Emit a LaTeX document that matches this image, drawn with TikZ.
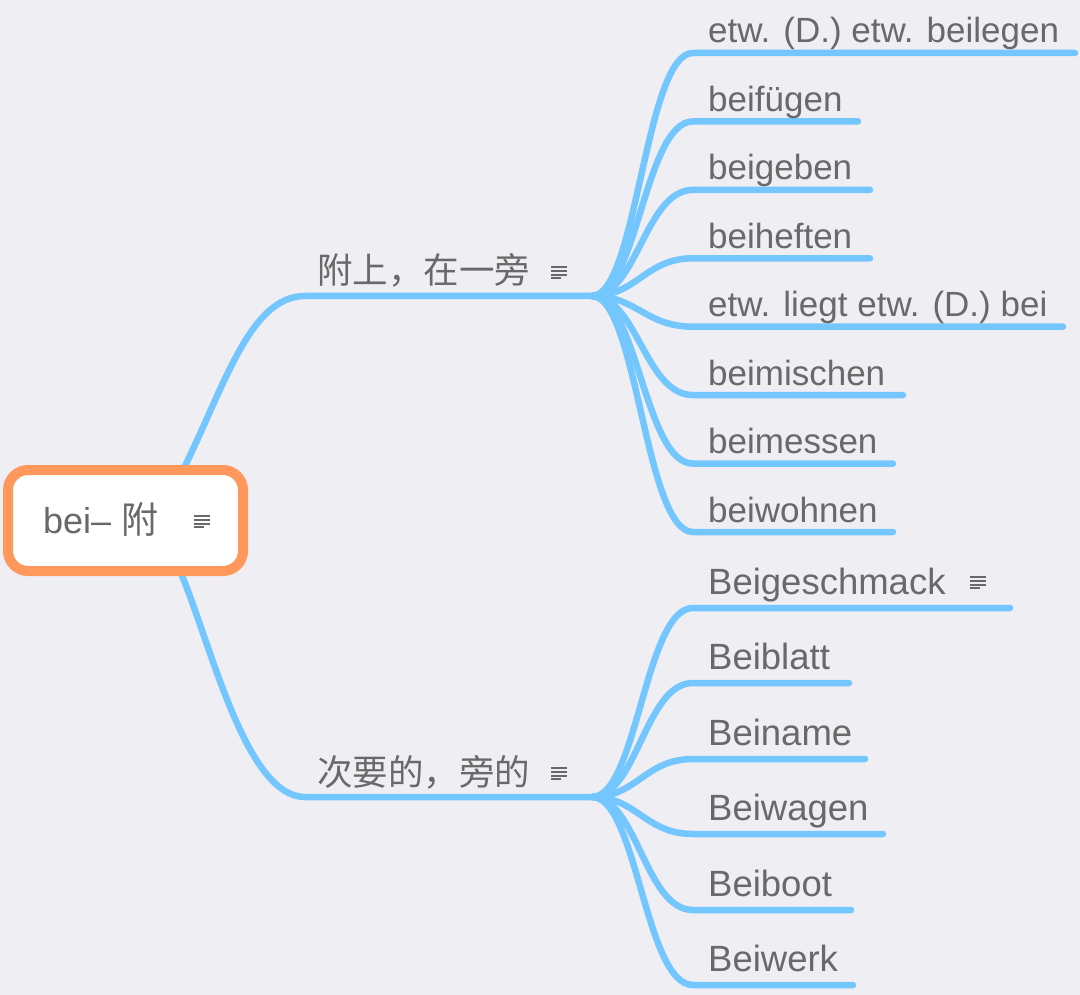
\documentclass[tikz,border=0pt]{standalone}
\usepackage{fontspec}
\setmainfont{Liberation Sans}
\newfontfamily\cjk{Noto Sans CJK SC}
\usetikzlibrary{backgrounds}
\definecolor{bg}{RGB}{239,238,243}
\definecolor{linkc}{RGB}{116,198,255}
\definecolor{rootc}{RGB}{255,152,90}
\definecolor{txtc}{RGB}{105,105,105}
\begin{document}
\begin{tikzpicture}[x=1pt,y=-1pt,
  link/.style={draw=linkc,line width=6.5pt,line cap=round},
  leafA/.style={anchor=base west,inner sep=0pt,text=txtc,font=\fontsize{35}{40}\selectfont},
  leafB/.style={anchor=base west,inner sep=0pt,text=txtc,font=\fontsize{36.5}{42}\selectfont},
  branchtxt/.style={anchor=base west,inner sep=0pt,text=txtc,font=\cjk\fontsize{35.5}{40}\selectfont},
  roottxt/.style={anchor=base west,inner sep=0pt,text=txtc,font=\fontsize{36}{40}\selectfont},
  rootbox/.style={draw=rootc,fill=white,line width=10pt,rounded corners=20pt,minimum width=235pt,minimum height=101pt,outer sep=0pt,inner sep=0pt},
  note/.pic={\draw[draw=txtc,line width=2pt] (0,0)--(16,0) (0,3.8)--(16,3.8) (0,7.6)--(16,7.6) (0,11.4)--(10,11.4);}
]
\useasboundingbox (0,0) rectangle (1080,995);

% root
\node[rootbox] (root) at (125.5,520.5) {};
\node[roottxt] (rt) at (43,533) {bei– {\cjk\fontsize{37}{40}\selectfont 附}};
\pic (rn) at (194,516) {note};

% branches
\node[branchtxt] (br1) at (317,284) {附上，在一旁};
\pic (n1) at (551,267) {note};
\coordinate (br1l) at (305,296);
\coordinate (f1) at (592,296);

\node[branchtxt] (br2) at (317,785) {次要的，旁的};
\pic (n2) at (551,768) {note};
\coordinate (br2l) at (305,797);
\coordinate (f2) at (592,797);

% upper leaves
\foreach \n/\y/\e/\t in {1/53/1075/{etw. (D.) etw. beilegen},2/121.4/858/{beifügen},3/189.9/870/{beigeben},4/258.3/870/{beiheften},5/326.7/1063/{etw. liegt etw. (D.) bei},6/395.1/903/{beimischen},7/463.6/893/{beimessen},8/532/893/{beiwohnen}}{
  \node[leafA] (a\n) at (708,\y-10) {\t};
  \coordinate (as\n) at (693,\y);
  \coordinate (ae\n) at (\e,\y);
}

% lower leaves
\foreach \n/\y/\e/\t in {1/608/1010/{Beigeschmack},2/683/849/{Beiblatt},3/759/865/{Beiname},4/834/883/{Beiwagen},5/910/851/{Beiboot},6/985/853/{Beiwerk}}{
  \node[leafB] (b\n) at (708,\y-14) {\t};
  \coordinate (bs\n) at (693,\y);
  \coordinate (be\n) at (\e,\y);
}
\pic (n3) at (970,577) {note};

\begin{pgfonlayer}{background}
  \fill[bg] (0,0) rectangle (1080,995);
  \draw[link] ([xshift=57.5]root.north) .. controls (225,385) and (250,296) .. (br1l) -- (f1);
  \draw[link] ([xshift=54.5]root.south) .. controls (210,640) and (245,797) .. (br2l) -- (f2);
  \foreach \n in {1,...,8}{
    \draw[link] (f1) .. controls +(45,0) and +(-48,0) .. (as\n) -- (ae\n);
  }
  \foreach \n in {1,...,6}{
    \draw[link] (f2) .. controls +(45,0) and +(-48,0) .. (bs\n) -- (be\n);
  }
\end{pgfonlayer}
\end{tikzpicture}
\end{document}
